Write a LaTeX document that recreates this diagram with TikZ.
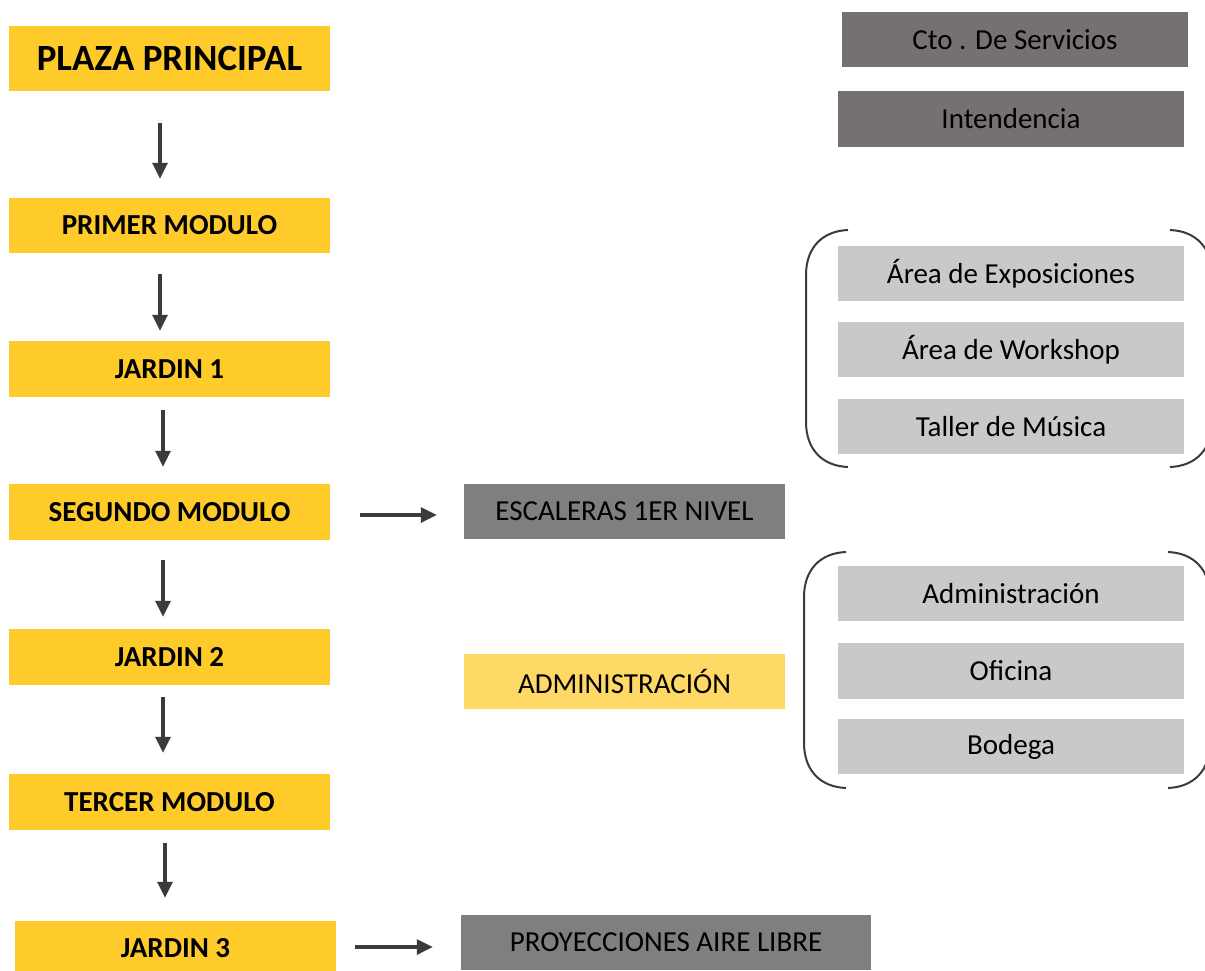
\documentclass[tikz,border=0pt]{standalone}
\usepackage{fontspec}
\setmainfont{Carlito}
\usetikzlibrary{arrows.meta}
\definecolor{ybox}{HTML}{FFCB2B}
\definecolor{lybox}{HTML}{FFD966}
\definecolor{dgray}{HTML}{767171}
\definecolor{mgray}{HTML}{7F7F7F}
\definecolor{lgray}{HTML}{C9C9C9}
\definecolor{arrc}{HTML}{3B3B3B}
\begin{document}
\begin{tikzpicture}[x=1pt,y=-1pt,
  box/.style={rectangle,inner sep=0pt,minimum width=321pt,minimum height=55pt,text=black,font=\fontsize{29}{30}\selectfont},
  ymain/.style={box,fill=ybox,font=\bfseries\fontsize{29}{30}\selectfont},
  ylight/.style={box,fill=lybox},
  gmid/.style={box,fill=mgray},
  gdark/.style={box,fill=dgray,minimum width=346pt},
  glight/.style={box,fill=lgray,minimum width=346pt},
  arr/.style={draw=arrc,line width=3.2pt,-{Triangle[width=15pt,length=16pt]}},
  brk/.style={draw=arrc,line width=2pt}]
\clip (0,0) rectangle (1205,970);
\fill[white] (0,0) rectangle (1205,970);

% left column
\node[ymain,minimum height=65pt,font=\bfseries\fontsize{37}{38}\selectfont] (plaza) at (169.5,58.5) {PLAZA PRINCIPAL};
\node[ymain] (primer) at (169.5,225.5) {PRIMER MODULO};
\node[ymain,minimum height=56pt] (jardin1) at (169.5,369) {JARDIN 1};
\node[ymain,minimum height=56pt] (segundo) at (169.5,512) {SEGUNDO MODULO};
\node[ymain,minimum height=56pt] (jardin2) at (169.5,657) {JARDIN 2};
\node[ymain,minimum height=56pt] (tercer) at (169.5,802) {TERCER MODULO};
\node[ymain] (jardin3) at (175.5,948.5) {JARDIN 3};

% middle column
\node[gmid] (esc) at (624.5,511.5) {ESCALERAS 1ER NIVEL};
\node[ylight] (adm) at (624.5,681.5) {ADMINISTRACIÓN};
\node[gmid,minimum width=410pt] (proy) at (666,942.5) {PROYECCIONES AIRE LIBRE};

% right column
\node[gdark] (cto) at (1015,39.5) {Cto . De Servicios};
\node[gdark,minimum height=56pt] (inten) at (1011,119) {Intendencia};
\node[glight] (expo) at (1011,273.5) {Área de Exposiciones};
\node[glight] (work) at (1011,349.5) {Área de Workshop};
\node[glight] (taller) at (1011,426.5) {Taller de Música};
\node[glight] (admin) at (1011,593.5) {Administración};
\node[glight,minimum height=56pt] (ofi) at (1011,671) {Oficina};
\node[glight] (bod) at (1011,746.5) {Bodega};

% vertical arrows
\draw[arr] ([xshift=-9.5pt,yshift=-32pt]plaza.south) -- ([xshift=-9.5pt,yshift=19pt]primer.north);
\draw[arr] ([xshift=-9.5pt,yshift=-21pt]primer.south) -- ([xshift=-9.5pt,yshift=10pt]jardin1.north);
\draw[arr] ([xshift=-6.5pt,yshift=-13pt]jardin1.south) -- ([xshift=-6.5pt,yshift=17pt]segundo.north);
\draw[arr] ([xshift=-6.5pt,yshift=-20pt]segundo.south) -- ([xshift=-6.5pt,yshift=12pt]jardin2.north);
\draw[arr] ([xshift=-6.5pt,yshift=-12pt]jardin2.south) -- ([xshift=-6.5pt,yshift=21pt]tercer.north);
\draw[arr] ([xshift=-4.5pt,yshift=-13pt]tercer.south) -- ([xshift=-10.5pt,yshift=23pt]jardin3.north);

% horizontal arrows
\draw[arr] ([xshift=30pt,yshift=-3pt]segundo.east) -- ([xshift=-27pt,yshift=-3.5pt]esc.west);
\draw[arr] ([xshift=19pt,yshift=1.5pt]jardin3.east) -- ([xshift=-28pt,yshift=-4.5pt]proy.west);

% brackets
\draw[brk] (848,230) .. controls (822,231) and (806,248) .. (806,275) -- (806,422) .. controls (806,449) and (822,466) .. (848,467);
\draw[brk] (1170,230) .. controls (1196,231) and (1212,248) .. (1212,275) -- (1212,422) .. controls (1212,449) and (1196,466) .. (1170,467);
\draw[brk] (846,552) .. controls (820,553) and (804,570) .. (804,597) -- (804,743) .. controls (804,770) and (820,787) .. (846,788);
\draw[brk] (1168,552) .. controls (1194,553) and (1210,570) .. (1210,597) -- (1210,743) .. controls (1210,770) and (1194,787) .. (1168,788);
\end{tikzpicture}
\end{document}
